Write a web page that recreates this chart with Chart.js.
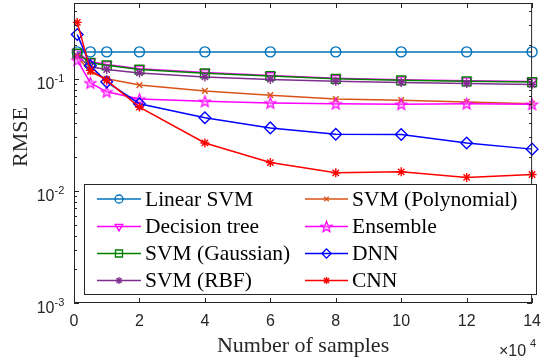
<!DOCTYPE html>
<html><head><meta charset="utf-8">
<script src="https://cdn.jsdelivr.net/npm/chart.js@4/dist/chart.umd.min.js"></script>
<style>html,body{margin:0;padding:0;background:#fff;}canvas{display:block;}</style>
</head><body>
<canvas id="c" width="550" height="360"></canvas>
<script>
// ---- data (x in units of 10^4 samples, y = RMSE) ----
const samples = [0.1, 0.5, 1, 2, 4, 6, 8, 10, 12, 14];
const seriesNames = ['Linear SVM', 'Decision tree', 'SVM (Gaussian)', 'SVM (RBF)',
                     'SVM (Polynomial)', 'Ensemble', 'DNN', 'CNN'];
const linearSVM    = [0.174, 0.174, 0.174, 0.174, 0.174, 0.174, 0.174, 0.174, 0.174, 0.174];
const decisionTree = [0.172, 0.142, 0.134, 0.123, 0.114, 0.107, 0.101, 0.098, 0.096, 0.0945];
const svmGaussian  = [0.168, 0.139, 0.132, 0.121, 0.112, 0.106, 0.100, 0.097, 0.095, 0.0935];
const svmRBF       = [0.160, 0.128, 0.121, 0.113, 0.104, 0.0988, 0.095, 0.093, 0.091, 0.089];
const svmPoly      = [0.158, 0.115, 0.100, 0.088, 0.078, 0.0715, 0.066, 0.0645, 0.0623, 0.060];
const ensemble     = [0.147, 0.092, 0.0766, 0.066, 0.063, 0.061, 0.060, 0.0594, 0.060, 0.0594];
const dnn          = [0.249, 0.131, 0.094, 0.060, 0.0449, 0.0365, 0.032, 0.0319, 0.0268, 0.0236];
const cnn          = [0.319, 0.119, 0.097, 0.056, 0.0268, 0.0179, 0.0145, 0.0148, 0.0132, 0.0140];
const xTickValues = [0, 2, 4, 6, 8, 10, 12, 14];
const yTickExponents = [-3, -2, -1];
const xAxisTitle = 'Number of samples';
const yAxisTitle = 'RMSE';
const xExponent = '4';

// ---- styling ----
const SANS = '"Liberation Sans", Arial, sans-serif';
const SERIF = '"Liberation Serif", "Times New Roman", serif';
const AX = '#262626';

function pentagram(color, r) {
  const s = Math.ceil(2 * r + 3);
  const c = document.createElement('canvas');
  c.width = s; c.height = s;
  const g = c.getContext('2d');
  g.beginPath();
  for (let i = 0; i < 10; i++) {
    const rr = i % 2 ? r * 0.42 : r;
    const a = -Math.PI / 2 + i * Math.PI / 5;
    g.lineTo(s / 2 + rr * Math.cos(a), s / 2 + rr * Math.sin(a) + 0.5);
  }
  g.closePath();
  g.fillStyle = 'rgba(255,140,255,0.45)';
  g.fill();
  g.strokeStyle = color; g.lineWidth = 1.2; g.stroke();
  return c;
}

const seriesValues = [linearSVM, decisionTree, svmGaussian, svmRBF, svmPoly, ensemble, dnn, cnn];
const seriesStyle = [
  {color: 'rgb(0,114,189)', point: 'circle', r: 5, rot: 0},
  {color: 'rgb(255,0,255)', point: 'triangle', r: 5.5, rot: 180},
  {color: 'rgb(0,128,0)', point: 'rect', r: 6.2, rot: 0},
  {color: 'rgb(126,47,142)', point: 'star', r: 4.5, rot: 0},
  {color: 'rgb(217,83,25)', point: 'crossRot', r: 4, rot: 0},
  {color: 'rgb(255,0,255)', point: pentagram('rgb(255,0,255)', 5.8), r: 6, rot: 0},
  {color: 'rgb(0,0,255)', point: 'rectRot', r: 5.8, rot: 0},
  {color: 'rgb(255,0,0)', point: 'star', r: 4.5, rot: 0}
];

const datasets = seriesNames.map((name, i) => ({
  label: name,
  data: samples.map((x, j) => ({x: x, y: seriesValues[i][j]})),
  borderColor: seriesStyle[i].color,
  backgroundColor: 'rgba(0,0,0,0)',
  pointBorderColor: seriesStyle[i].color,
  pointBackgroundColor: 'rgba(0,0,0,0)',
  pointStyle: seriesStyle[i].point,
  pointRadius: seriesStyle[i].r,
  pointRotation: seriesStyle[i].rot,
  pointBorderWidth: 1.4,
  borderWidth: 1.5,
  tension: 0,
  clip: 8,
  order: seriesNames.length - i
}));

const decor = {
  id: 'decor',
  afterDraw(chart) {
    const ctx = chart.ctx;
    const xs = chart.scales.x, ys = chart.scales.y;
    const L = chart.chartArea.left, R = chart.chartArea.right;
    const T = chart.chartArea.top, B = chart.chartArea.bottom;
    ctx.save();
    ctx.strokeStyle = AX; ctx.lineWidth = 1;
    // frame
    ctx.strokeRect(L + 0.5, T + 0.5, R - L - 1, B - T - 1);
    // x ticks (inward, bottom and top)
    ctx.beginPath();
    xTickValues.forEach(v => {
      const px = Math.round(xs.getPixelForValue(v)) + 0.5;
      ctx.moveTo(px, B); ctx.lineTo(px, B - 5);
      ctx.moveTo(px, T); ctx.lineTo(px, T + 5);
    });
    // y ticks major + minor
    for (let e = -3; e <= 0; e++) {
      for (let m = 1; m <= 9; m++) {
        const v = m * Math.pow(10, e);
        if (v < ys.min - 1e-12 || v > ys.max) continue;
        const py = Math.round(ys.getPixelForValue(v)) + 0.5;
        const len = m === 1 ? 5 : 3;
        ctx.moveTo(L, py); ctx.lineTo(L + len, py);
        ctx.moveTo(R, py); ctx.lineTo(R - len, py);
      }
    }
    ctx.stroke();
    // y tick labels 10^e
    ctx.fillStyle = AX;
    yTickExponents.forEach(e => {
      const py = ys.getPixelForValue(Math.pow(10, e));
      ctx.font = '16px ' + SANS;
      ctx.textAlign = 'right'; ctx.textBaseline = 'alphabetic';
      ctx.fillText('10', 54.5, py + 10);
      ctx.font = '11px ' + SANS;
      ctx.textAlign = 'left';
      ctx.fillText(String(e), 54.5, py + 3);
    });
    // x exponent  x10^4
    ctx.font = '16px ' + SANS;
    ctx.textAlign = 'left';
    ctx.fillText('\u00d710', 499, 356);
    ctx.font = '11px ' + SANS;
    ctx.fillText(xExponent, 530, 347);
    // y title
    ctx.save();
    ctx.translate(21, 137);
    ctx.rotate(-Math.PI / 2);
    ctx.font = '22px ' + SERIF;
    ctx.fillStyle = AX;
    ctx.textAlign = 'center'; ctx.textBaseline = 'middle';
    ctx.fillText(yAxisTitle, 0, 0);
    ctx.restore();
    // legend
    const bx0 = 84.5, by0 = 184.5, bx1 = 536.5, by1 = 294.5;
    ctx.fillStyle = '#fff';
    ctx.fillRect(bx0, by0, bx1 - bx0, by1 - by0);
    ctx.strokeStyle = AX; ctx.lineWidth = 1;
    ctx.strokeRect(bx0, by0, bx1 - bx0, by1 - by0);
    const cols = [{x0: 97, x1: 141, tx: 145}, {x0: 305, x1: 348, tx: 352}];
    const rows = [199, 226.5, 253.5, 280.5];
    chart.data.datasets.forEach((ds, i) => {
      const c = cols[Math.floor(i / 4)], y = rows[i % 4];
      ctx.strokeStyle = ds.borderColor; ctx.lineWidth = 1.5;
      ctx.beginPath(); ctx.moveTo(c.x0, y); ctx.lineTo(c.x1, y); ctx.stroke();
      ctx.fillStyle = 'rgba(0,0,0,0)';
      ctx.strokeStyle = ds.pointBorderColor; ctx.lineWidth = 1.3;
      Chart.helpers.drawPoint(ctx, {
        pointStyle: ds.pointStyle, radius: ds.pointRadius * 0.8,
        rotation: ds.pointRotation, borderWidth: 1.3
      }, (c.x0 + c.x1) / 2, y);
      ctx.fillStyle = '#000';
      ctx.font = '21.5px ' + SERIF;
      ctx.textAlign = 'left'; ctx.textBaseline = 'middle';
      ctx.fillText(ds.label, c.tx, y + 1);
    });
    ctx.restore();
  }
};

new Chart(document.getElementById('c'), {
  type: 'line',
  data: {datasets: datasets},
  plugins: [decor],
  options: {
    responsive: false,
    animation: false,
    devicePixelRatio: 1,
    layout: {autoPadding: false, padding: {left: 0, right: 10, top: 3, bottom: 0}},
    plugins: {legend: {display: false}, tooltip: {enabled: false}},
    elements: {line: {fill: false}},
    scales: {
      x: {
        type: 'linear', min: 0, max: 14,
        afterBuildTicks: s => { s.ticks = xTickValues.map(v => ({value: v})); },
        ticks: {color: AX, font: {family: SANS, size: 16}, padding: 9, maxRotation: 0, autoSkip: false},
        grid: {display: false, drawTicks: false},
        border: {display: false},
        title: {display: true, text: xAxisTitle, color: AX, font: {family: SERIF, size: 22}, padding: {top: 0, bottom: 1}},
        afterFit: s => { s.height = 57; }
      },
      y: {
        type: 'logarithmic', min: 0.001, max: 0.475,
        afterBuildTicks: s => { s.ticks = yTickExponents.map(e => ({value: Math.pow(10, e)})); },
        ticks: {display: false},
        grid: {display: false, drawTicks: false},
        border: {display: false},
        afterFit: s => { s.width = 74; }
      }
    }
  }
});
</script>
</body></html>
